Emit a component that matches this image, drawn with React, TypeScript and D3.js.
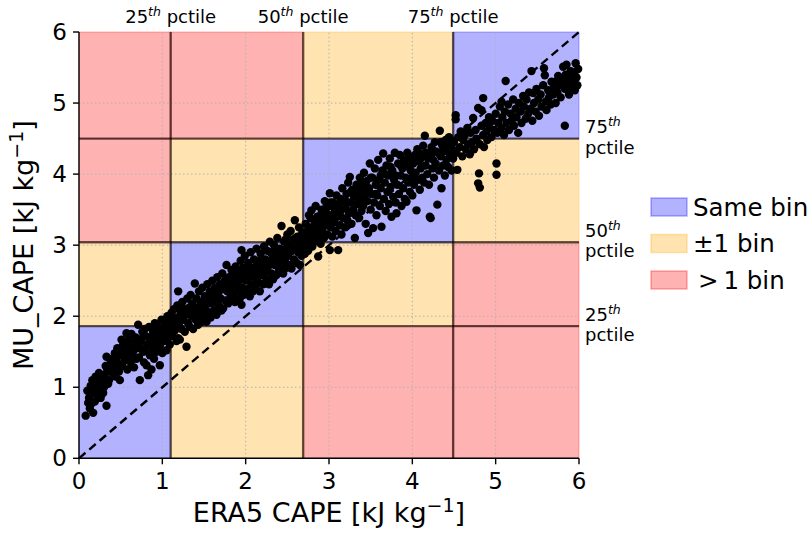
import React from 'react';
import * as d3 from 'd3';

// Axis ticks
const xTicks = [0, 1, 2, 3, 4, 5, 6];
const yTicks = [0, 1, 2, 3, 4, 5, 6];

// Percentile thresholds (kJ kg-1) for ERA5 CAPE and MU_CAPE
const eraPctiles = [1.1, 2.69, 4.49];
const muPctiles = [1.86, 3.04, 4.5];
const pctileNames = ['25', '50', '75'];

// Legend categories and their colours
const legendLabels = ['Same bin', '\u00b11 bin', '> 1 bin'];
const binColors = ['blue', 'orange', 'red'];

// ERA5 CAPE vs MU_CAPE pairs
const points: [number, number][] = [
  [0.08,0.60],[0.17,0.64],[0.15,0.77],[0.33,0.74],[0.12,0.85],[0.10,0.95],[0.18,0.92],[0.22,0.88],[0.14,1.02],[0.17,1.03],
  [0.21,1.08],[0.25,0.98],[0.28,1.05],[0.20,1.15],[0.24,1.20],[0.27,1.12],[0.30,1.00],[0.31,1.18],[0.34,1.25],[0.36,1.10],
  [0.38,1.32],[0.39,1.36],[0.33,1.43],[0.40,1.20],[0.42,1.28],[0.44,1.15],[0.45,1.40],[0.47,1.33],[0.48,1.22],[0.50,1.45],
  [0.51,1.67],[0.52,1.30],[0.54,1.52],[0.55,1.38],[0.57,1.76],[0.58,1.25],[0.60,1.58],[0.61,1.45],[0.62,1.35],[0.64,1.62],
  [0.65,1.50],[0.66,1.28],[0.68,1.70],[0.70,1.55],[0.71,1.88],[0.72,1.42],[0.73,1.10],[0.74,1.65],[0.76,1.78],[0.77,1.50],
  [0.78,1.35],[0.80,1.72],[0.81,1.31],[0.82,1.60],[0.83,1.17],[0.84,1.85],[0.85,1.45],[0.86,1.68],[0.88,1.55],[0.89,1.78],
  [0.90,1.40],[0.91,1.90],[0.92,1.62],[0.93,1.50],[0.94,1.75],[0.95,1.85],[0.97,1.31],[0.97,1.58],[0.98,1.70],[0.99,1.95],
  [1.00,1.48],[1.01,1.80],[1.02,1.65],[1.03,1.88],[1.04,1.75],[1.05,1.52],[1.06,2.00],[1.07,1.70],[1.08,1.92],[1.09,1.60],
  [0.13,0.70],[0.19,0.80],[0.23,0.95],[0.26,0.85],[0.29,0.92],[0.16,1.10],[0.35,1.05],[0.37,1.40],[0.43,1.48],[0.46,1.55],
  [0.49,1.10],[0.53,1.60],[0.56,1.43],[0.59,1.66],[0.63,1.75],[0.67,1.58],[0.69,1.40],[0.75,1.55],[0.79,1.82],[0.87,1.25],
  [0.11,0.78],[0.19,0.98],[0.24,1.05],[0.32,1.30],[0.41,1.38],[0.46,1.25],[0.53,1.45],[0.57,1.55],[0.63,1.48],[0.69,1.62],
  [0.75,1.68],[0.79,1.52],[0.84,1.62],[0.88,1.72],[0.93,1.82],[0.96,1.68],[1.02,1.78],[1.05,1.90],[1.08,1.78],
  [1.10,1.85],[1.11,2.05],[1.12,1.72],[1.13,1.95],[1.14,2.10],[1.15,1.80],[1.16,1.98],[1.17,1.65],[1.18,2.15],[1.19,1.69],
  [1.19,2.35],[1.20,1.90],[1.21,1.67],[1.22,2.05],[1.23,1.82],[1.24,2.20],[1.25,1.95],[1.26,2.10],[1.27,1.78],[1.28,2.02],
  [1.29,1.57],[1.30,2.25],[1.31,1.90],[1.32,2.12],[1.33,1.85],[1.34,2.30],[1.35,2.00],[1.36,2.18],[1.37,1.82],[1.38,2.08],
  [1.39,2.46],[1.40,1.95],[1.41,2.25],[1.42,2.12],[1.43,1.88],[1.44,2.35],[1.45,2.05],[1.46,2.20],[1.47,1.92],[1.48,2.40],
  [1.49,2.15],[1.50,2.00],[1.51,2.28],[1.52,2.10],[1.53,1.92],[1.54,2.45],[1.55,2.22],[1.56,2.05],[1.57,2.35],[1.58,1.98],
  [1.59,2.18],[1.60,2.50],[1.61,2.28],[1.62,2.08],[1.63,2.40],[1.64,2.20],[1.65,2.02],[1.66,2.55],[1.67,2.32],[1.68,2.15],
  [1.69,2.45],[1.70,2.25],[1.71,2.08],[1.72,2.60],[1.73,2.11],[1.74,2.38],[1.75,2.50],[1.76,2.22],[1.77,2.72],[1.78,2.35],
  [1.79,2.18],[1.80,2.55],[1.81,2.42],[1.82,2.28],[1.83,2.65],[1.84,2.48],[1.85,2.30],[1.86,2.58],[1.87,2.20],[1.88,2.70],
  [1.89,2.45],[1.90,2.35],[1.91,2.62],[1.92,2.50],[1.93,2.25],[1.94,2.78],[1.95,2.93],[1.95,2.16],[1.95,2.55],[1.96,2.40],
  [1.97,2.68],[1.98,2.30],[1.99,2.85],[2.00,2.50],[2.01,2.62],[2.02,2.38],[2.03,2.75],[2.04,2.55],[2.05,2.28],[2.06,2.90],
  [2.07,2.45],[2.08,2.68],[2.09,2.35],[2.10,2.80],[2.11,2.55],[2.12,2.42],[2.13,2.95],[2.14,2.62],[2.15,2.48],[2.16,2.78],
  [2.17,2.35],[2.18,2.88],[2.19,2.58],[2.20,2.70],[2.21,2.45],[2.22,2.98],[2.23,2.62],[2.24,2.80],[2.25,2.52],[2.26,2.92],
  [2.27,2.70],[2.28,2.45],[2.29,3.05],[2.30,2.78],[2.31,2.60],[2.32,2.88],[2.33,2.52],[2.34,3.00],[2.35,2.72],[2.36,2.85],
  [2.37,2.58],[2.38,3.10],[2.39,2.80],[2.40,2.65],[2.41,2.95],[2.42,2.72],[2.43,3.27],[2.44,2.88],[2.45,2.60],[2.46,3.05],
  [2.47,2.78],[2.48,2.95],[2.49,2.68],[2.50,3.15],[2.51,2.85],[2.52,3.00],[2.53,2.72],[2.54,3.20],[2.55,2.67],[2.56,2.92],
  [2.57,3.08],[2.58,2.80],[2.59,3.35],[2.60,2.98],[2.61,2.75],[2.62,3.12],[2.63,2.90],[2.64,3.25],[2.65,2.72],[2.66,3.05],
  [2.67,2.85],[2.68,3.18],[2.69,2.95],
  [1.12,1.88],[1.18,1.85],[1.24,1.95],[1.30,2.05],[1.36,2.05],[1.42,2.00],[1.47,2.10],[1.53,2.18],[1.58,2.30],[1.64,2.30],
  [1.70,2.38],[1.76,2.45],[1.82,2.40],[1.88,2.55],[1.94,2.60],[2.00,2.68],[2.06,2.62],[2.12,2.70],[2.18,2.72],[2.24,2.68],
  [2.30,2.90],[2.36,2.95],[2.42,2.85],[2.48,3.08],[2.54,2.95],[2.60,3.10],[2.66,2.95],
  [2.70,3.10],[2.71,2.88],[2.72,3.30],[2.73,3.00],[2.74,3.20],[2.75,2.92],[2.76,3.42],[2.77,3.08],[2.78,3.25],[2.79,3.49],
  [2.80,2.98],[2.81,3.15],[2.82,3.35],[2.83,3.05],[2.84,3.55],[2.85,3.22],[2.86,3.40],[2.87,2.84],[2.88,3.12],[2.89,3.30],
  [2.90,3.02],[2.91,3.50],[2.92,3.20],[2.93,3.38],[2.94,3.10],[2.95,3.62],[2.96,3.28],[2.97,3.45],[2.98,3.15],[2.99,3.35],
  [3.00,3.55],[3.01,2.93],[3.01,3.73],[3.02,3.25],[3.03,3.42],[3.04,3.12],[3.05,3.60],[3.06,3.32],[3.07,3.50],[3.08,3.20],
  [3.09,3.70],[3.10,3.40],[3.11,2.93],[3.12,3.58],[3.13,3.28],[3.14,3.48],[3.15,3.15],[3.16,3.80],[3.17,3.38],[3.18,3.62],
  [3.19,3.25],[3.20,3.52],[3.21,3.72],[3.22,3.35],[3.23,3.88],[3.24,3.45],[3.25,3.96],[3.26,3.60],[3.27,3.30],[3.28,3.78],
  [3.29,3.50],[3.30,3.68],[3.31,3.10],[3.32,3.42],[3.33,3.85],[3.34,3.58],[3.35,3.75],[3.36,3.38],[3.37,3.95],[3.38,3.65],
  [3.39,3.48],[3.40,3.82],[3.41,3.55],[3.42,4.02],[3.43,3.70],[3.44,3.30],[3.45,3.90],[3.46,3.62],[3.47,3.17],[3.48,3.80],
  [3.49,4.15],[3.50,3.50],[3.51,3.72],[3.52,3.95],[3.53,3.24],[3.54,3.60],[3.55,4.08],[3.56,3.85],[3.57,3.42],[3.58,3.70],
  [3.59,4.20],[3.60,3.92],[3.61,3.55],[3.62,3.80],[3.63,3.26],[3.64,4.05],[3.65,4.29],[3.66,3.65],[3.67,3.88],[3.68,3.48],
  [3.69,4.12],[3.70,3.75],[3.71,3.98],[3.72,3.58],[3.73,4.22],[3.74,3.82],[3.75,3.40],[3.76,4.05],[3.77,3.68],[3.78,3.92],
  [3.79,4.30],[3.80,3.60],[3.81,3.45],[3.82,3.85],[3.83,4.15],[3.84,3.72],[3.85,4.27],[3.86,3.98],[3.87,3.55],[3.88,4.08],
  [3.89,3.80],[3.90,4.20],[3.91,3.65],[3.92,3.95],[3.93,3.61],[3.94,4.30],[3.95,3.88],[3.96,4.10],[3.97,3.75],[3.98,4.22],
  [3.99,3.95],[4.00,3.70],[4.01,4.15],[4.02,3.85],[4.03,4.27],[4.04,4.02],[4.05,3.49],[4.06,4.35],[4.07,3.92],[4.08,4.18],
  [4.09,3.78],[4.10,4.08],[4.11,4.28],[4.12,3.95],[4.13,4.40],[4.14,3.88],[4.15,4.54],[4.16,4.12],[4.17,4.30],[4.18,4.00],
  [4.19,4.22],[4.20,3.85],[4.21,3.40],[4.22,3.38],[4.23,4.38],[4.24,4.08],[4.25,4.20],[4.26,3.95],[4.27,4.45],[4.28,4.15],
  [4.30,3.57],[4.31,4.30],[4.32,4.05],[4.33,4.61],[4.34,4.25],[4.35,3.80],[4.36,4.40],[4.37,4.12],[4.38,4.32],[4.39,3.98],
  [4.40,4.48],[4.41,4.20],[4.42,4.38],[4.43,4.10],[4.44,4.52],[4.45,4.28],[4.46,4.42],[4.47,4.05],[4.48,4.35],[4.49,4.22],
  [2.72,3.15],[2.78,3.38],[2.84,3.30],[2.90,3.42],[2.96,3.52],[3.02,3.60],[3.08,3.45],[3.14,3.65],[3.20,3.62],[3.26,3.75],
  [3.32,3.70],[3.38,3.85],[3.44,3.78],[3.50,3.95],[3.56,3.72],[3.62,3.98],[3.68,4.00],[3.74,4.10],[3.80,3.98],[3.86,4.12],
  [3.92,4.18],[3.98,4.05],[4.04,4.18],[4.10,4.22],[4.16,4.25],[4.22,4.28],[4.28,4.32],[4.34,4.45],[4.40,4.35],[4.46,4.48],
  [4.50,4.45],[4.52,4.83],[4.52,4.77],[4.53,4.30],[4.54,4.06],[4.55,4.52],[4.57,4.38],[4.58,4.60],[4.60,4.25],[4.61,4.48],
  [4.63,4.55],[4.64,4.35],[4.66,4.65],[4.67,4.42],[4.69,4.28],[4.70,4.58],[4.72,4.45],[4.73,4.79],[4.74,4.35],[4.76,4.62],
  [4.77,4.50],[4.79,4.93],[4.79,3.87],[4.80,4.01],[4.81,3.81],[4.81,4.42],[4.83,4.90],[4.83,4.68],[4.85,5.07],[4.85,4.55],
  [4.86,4.38],[4.88,4.72],[4.89,4.60],[4.90,4.48],[4.92,4.80],[4.93,4.65],[4.95,4.52],[4.96,4.75],[4.98,4.62],[5.00,4.85],
  [5.01,4.15],[5.01,3.99],[5.02,4.58],[5.03,4.72],[5.05,4.95],[5.07,5.02],[5.07,4.65],[5.08,4.80],[5.10,4.55],[5.11,4.88],
  [5.12,5.31],[5.13,4.72],[5.15,4.98],[5.16,4.62],[5.18,4.85],[5.19,4.75],[5.21,5.05],[5.22,4.68],[5.24,4.92],[5.25,4.80],
  [5.27,4.58],[5.28,5.00],[5.30,4.88],[5.31,4.72],[5.33,5.10],[5.34,4.95],[5.36,4.78],[5.37,5.05],[5.39,4.85],[5.40,5.15],
  [5.42,4.92],[5.43,5.45],[5.44,4.75],[5.45,5.14],[5.46,5.00],[5.48,4.88],[5.49,5.20],[5.51,5.05],[5.52,4.82],[5.54,5.12],
  [5.55,4.95],[5.57,5.25],[5.58,5.49],[5.59,5.39],[5.60,5.02],[5.61,4.90],[5.63,5.18],[5.64,5.08],[5.66,4.98],[5.67,5.30],
  [5.69,5.12],[5.70,5.22],[5.72,5.30],[5.72,5.00],[5.74,5.15],[5.75,5.38],[5.77,5.25],[5.78,5.08],[5.80,5.32],[5.81,5.51],
  [5.83,4.68],[5.83,5.20],[5.84,5.40],[5.85,5.54],[5.86,5.28],[5.88,5.12],[5.89,5.35],[5.90,5.45],[5.91,5.22],[5.93,5.30],
  [5.94,5.42],[5.95,5.18],[5.96,5.56],[5.97,5.36],[5.98,5.25],[5.99,5.48],
];

const FONT = "'DejaVu Sans', sans-serif";
const margin = { left: 79, right: 233, top: 32, bottom: 78.7 };
const W = 812;
const H = 537;

export default function App() {
  const x = d3.scaleLinear().domain([0, 6]).range([margin.left, W - margin.right]);
  const y = d3.scaleLinear().domain([0, 6]).range([H - margin.bottom, margin.top]);

  const xEdges = [0, ...eraPctiles, 6];
  const yEdges = [0, ...muPctiles, 6];

  const cells: { x0: number; x1: number; y0: number; y1: number; c: string }[] = [];
  for (let i = 0; i < 4; i++) {
    for (let j = 0; j < 4; j++) {
      const d = Math.min(Math.abs(i - j), 2);
      cells.push({ x0: xEdges[i], x1: xEdges[i + 1], y0: yEdges[j], y1: yEdges[j + 1], c: binColors[d] });
    }
  }

  const line = d3.line<[number, number]>().x((d) => x(d[0])).y((d) => y(d[1]));

  const [x0, x1] = x.range();
  const [yb, yt] = y.range();

  return (
    <svg width={W} height={H} style={{ position: 'absolute', left: 0, top: 0, background: 'white' }} fontFamily={FONT}>
      {/* category cells */}
      {cells.map((c, k) => (
        <rect
          key={k}
          x={x(c.x0)}
          y={y(c.y1)}
          width={x(c.x1) - x(c.x0)}
          height={y(c.y0) - y(c.y1)}
          fill={c.c}
          fillOpacity={0.3}
          stroke={c.c}
          strokeOpacity={0.3}
          strokeWidth={1}
        />
      ))}

      {/* grid */}
      {xTicks.slice(1, -1).map((t) => (
        <line key={'gx' + t} x1={x(t)} x2={x(t)} y1={yb} y2={yt} stroke="#b0b0b0" strokeWidth={1} strokeDasharray="1.5,2.5" />
      ))}
      {yTicks.slice(1, -1).map((t) => (
        <line key={'gy' + t} x1={x0} x2={x1} y1={y(t)} y2={y(t)} stroke="#b0b0b0" strokeWidth={1} strokeDasharray="1.5,2.5" />
      ))}

      {/* percentile boundaries */}
      {eraPctiles.map((p) => (
        <line key={'vp' + p} x1={x(p)} x2={x(p)} y1={yb} y2={yt} stroke="black" strokeOpacity={0.6} strokeWidth={2.4} />
      ))}
      {muPctiles.map((p) => (
        <line key={'hp' + p} x1={x0} x2={x1} y1={y(p)} y2={y(p)} stroke="black" strokeOpacity={0.6} strokeWidth={2.4} />
      ))}

      {/* 1:1 line */}
      <path d={line([[0, 0], [6, 6]]) || ''} stroke="black" strokeWidth={2.4} strokeDasharray="8.5,5" fill="none" />

      {/* scatter */}
      {points.map((p, k) => (
        <circle key={k} cx={x(p[0])} cy={y(p[1])} r={4.2} fill="black" />
      ))}

      {/* axes */}
      <line x1={x0} x2={x0} y1={yb + 0.7} y2={yt} stroke="black" strokeWidth={1.4} />
      <line x1={x0 - 0.7} x2={x1} y1={yb} y2={yb} stroke="black" strokeWidth={1.4} />
      {xTicks.map((t) => (
        <g key={'xt' + t}>
          <line x1={x(t)} x2={x(t)} y1={yb} y2={yb + 6} stroke="black" strokeWidth={1.4} />
          <text x={x(t)} y={yb + 31} textAnchor="middle" fontSize={23}>{t}</text>
        </g>
      ))}
      {yTicks.map((t) => (
        <g key={'yt' + t}>
          <line x1={x0 - 6} x2={x0} y1={y(t)} y2={y(t)} stroke="black" strokeWidth={1.4} />
          <text x={x0 - 12} y={y(t) + 8} textAnchor="end" fontSize={23}>{t}</text>
        </g>
      ))}

      {/* axis titles */}
      <text x={(x0 + x1) / 2} y={522} textAnchor="middle" fontSize={27}>
        ERA5 CAPE [kJ kg<tspan dy={-10} fontSize={19}>{'\u22121'}</tspan><tspan dy={10}>]</tspan>
      </text>
      <text transform={`translate(33,${(yb + yt) / 2}) rotate(-90)`} textAnchor="middle" fontSize={27}>
        MU_CAPE [kJ kg<tspan dy={-10} fontSize={19}>{'\u22121'}</tspan><tspan dy={10}>]</tspan>
      </text>

      {/* percentile labels along the top */}
      {eraPctiles.map((p, k) => (
        <text key={'tl' + k} x={x(p)} y={23} textAnchor="middle" fontSize={18}>
          {pctileNames[k]}
          <tspan dy={-7} fontSize={12.5} fontStyle="italic">th</tspan>
          <tspan dy={7}>{' pctile'}</tspan>
        </text>
      ))}
      {/* percentile labels on the right */}
      {muPctiles.map((p, k) => (
        <g key={'rl' + k}>
          <text x={x1 + 6} y={y(p) - 5.5} fontSize={18}>
            {pctileNames[k]}
            <tspan dy={-7} fontSize={12.5} fontStyle="italic">th</tspan>
          </text>
          <text x={x1 + 6} y={y(p) + 15} fontSize={18}>pctile</text>
        </g>
      ))}

      {/* legend */}
      {legendLabels.map((lab, k) => {
        const cy = 207 + k * 36.5;
        return (
          <g key={'lg' + k}>
            <rect x={651} y={cy - 9} width={36} height={18} fill={binColors[k]} fillOpacity={0.3} stroke={binColors[k]} strokeOpacity={0.3} strokeWidth={1.5} />
            <text x={k === 2 ? 698 : 693} y={cy + 8.5} fontSize={24.5}>{k === 2 ? '>\u20091 bin' : lab}</text>
          </g>
        );
      })}
    </svg>
  );
}
